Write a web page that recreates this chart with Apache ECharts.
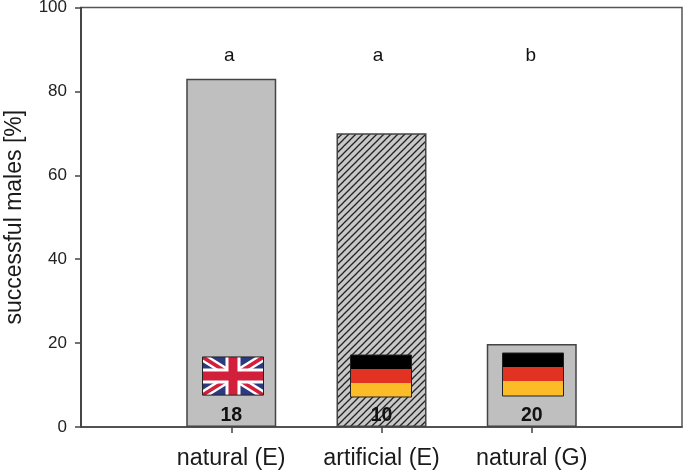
<!DOCTYPE html>
<html><head><meta charset="utf-8">
<style>html,body{margin:0;padding:0;background:#fff}#c{width:685px;height:472px}</style>
<script src="https://cdn.jsdelivr.net/npm/echarts@6/dist/echarts.min.js"></script>
</head><body><div id="c"></div>
<script>
const categories = ['', 'natural (E)', 'artificial (E)', 'natural (G)', ''];
const successValues = [null, 83, 70, 19.8, null];
const letterLabels = ['a', 'a', 'b'];
const sampleSizes = [18, 10, 20];
const markerCategories = [1, 2, 3];
const letterLevel = 88.6;
const sampleLevel = 2.8;
const flagKinds = ['uk', 'de', 'de'];
const flagTops = [16.7, 17.2, 17.6];
const flagBottoms = [7.6, 7.3, 7.4];
const yTicks = [0, 20, 40, 60, 80, 100];

const letterNudge = [-2, -3.5, -1];
const flagNudge = [1, -1, 1];

function hatch() {
  const s = 7, c = document.createElement('canvas');
  c.width = s; c.height = s;
  const g = c.getContext('2d');
  g.fillStyle = '#c8c8c8'; g.fillRect(0, 0, s, s);
  g.strokeStyle = '#222'; g.lineWidth = 1.25;
  [[-1, 1, 1, -1], [-1, s + 1, s + 1, -1], [s - 1, s + 1, s + 1, s - 1]].forEach(p => {
    g.beginPath(); g.moveTo(p[0], p[1]); g.lineTo(p[2], p[3]); g.stroke();
  });
  return { image: c, repeat: 'repeat' };
}

function ukFlag(x, y, w, h) {
  const rect = (a, b, c, d, fill) => ({ type: 'rect', shape: { x: a, y: b, width: c, height: d }, style: { fill } });
  const band = (dx, dy, flip, fill) => {
    const p = flip
      ? [[x + w, y], [x + w - dx, y], [x, y + h - dy], [x, y + h], [x + dx, y + h], [x + w, y + dy]]
      : [[x, y], [x + dx, y], [x + w, y + h - dy], [x + w, y + h], [x + w - dx, y + h], [x, y + dy]];
    return { type: 'polygon', shape: { points: p }, style: { fill } };
  };
  return [
    rect(x, y, w, h, '#2b3a80'),
    band(8, 5, false, '#ffffff'), band(8, 5, true, '#ffffff'),
    band(3.5, 2.2, false, '#d2203c'), band(3.5, 2.2, true, '#d2203c'),
    rect(x + w / 2 - 7.5, y, 15, h, '#ffffff'), rect(x, y + h / 2 - 7.5, w, 15, '#ffffff'),
    rect(x + w / 2 - 4.5, y, 9, h, '#d2203c'), rect(x, y + h / 2 - 4.5, w, 9, '#d2203c'),
    { type: 'rect', shape: { x, y, width: w, height: h }, style: { fill: 'none', stroke: '#222', lineWidth: 1 } }
  ];
}
function deFlag(x, y, w, h) {
  const y0 = Math.round(y), t = Math.round(h / 3), h0 = Math.round(h);
  return [
    { type: 'rect', shape: { x, y: y0, width: w, height: h0 }, style: { fill: '#fbbc28' } },
    { type: 'rect', shape: { x, y: y0, width: w, height: 2 * t }, style: { fill: '#e23222' } },
    { type: 'rect', shape: { x, y: y0, width: w, height: t }, style: { fill: '#000' } },
    { type: 'rect', shape: { x, y: y0, width: w, height: h0 }, style: { fill: 'none', stroke: '#222', lineWidth: 1 } }
  ];
}

const chart = echarts.init(document.getElementById('c'), null, { renderer: 'canvas' });
const fontFamily = '"Liberation Sans", Arial, sans-serif';
chart.setOption({
  animation: false,
  backgroundColor: '#fff',
  grid: { left: 81, right: 3, top: 7.5, bottom: 45, show: true, outerBoundsMode: 'none', containLabel: false, borderColor: '#555', borderWidth: 1.5, backgroundColor: 'transparent' },
  xAxis: {
    type: 'category', data: categories, boundaryGap: false,
    axisLine: { lineStyle: { color: '#444', width: 1.5 } },
    axisTick: { length: 6, lineStyle: { color: '#444', width: 1.5 }, interval: (i) => i >= 1 && i <= 3, alignWithLabel: true },
    axisLabel: { color: '#1a1a1a', fontSize: 23.3, fontFamily, margin: 20, interval: 0 },
    splitLine: { show: false }
  },
  yAxis: {
    type: 'value', min: yTicks[0], max: yTicks[yTicks.length - 1], interval: yTicks[1] - yTicks[0],
    name: 'successful males [%]', nameLocation: 'middle', nameGap: 55,
    nameTextStyle: { color: '#1a1a1a', fontSize: 23, fontFamily },
    axisLine: { show: true, lineStyle: { color: '#333', width: 1.5 } },
    axisTick: { show: true, length: 6, lineStyle: { color: '#444', width: 1.5 } },
    axisLabel: { color: '#222', fontSize: 17, fontFamily, margin: 14 },
    splitLine: { show: false }
  },
  series: [
    {
      type: 'bar', barWidth: 90, z: 2,
      data: successValues.map((v, i) => ({
        value: v,
        itemStyle: i === 2
          ? { color: hatch(), borderColor: '#444', borderWidth: 1.5 }
          : { color: '#bfbfbf', borderColor: '#444', borderWidth: 1.5 }
      }))
    },
    {
      type: 'custom', z: 5, coordinateSystem: 'cartesian2d', silent: true,
      data: markerCategories.map((c, i) => [c, flagTops[i], flagBottoms[i], i]),
      encode: { x: 0, y: [1, 2] },
      renderItem: (params, api) => {
        const i = api.value(3);
        const top = api.coord([api.value(0), api.value(1)]);
        const bot = api.coord([api.value(0), api.value(2)]);
        const w = 61, x = Math.round(top[0] - w / 2) + 0.5 + flagNudge[i], y = top[1], h = bot[1] - top[1];
        return { type: 'group', children: flagKinds[i] === 'uk' ? ukFlag(x, y, w, h) : deFlag(x, y, w, h) };
      }
    },
    {
      type: 'scatter', symbolSize: 0, z: 6, silent: true, itemStyle: { opacity: 1 },
      data: markerCategories.map((c, i) => ({
        value: [c, letterLevel],
        label: { show: true, position: 'inside', offset: [letterNudge[i], 0], formatter: letterLabels[i], fontSize: 19, color: '#111', fontFamily }
      }))
    },
    {
      type: 'scatter', symbolSize: 0, z: 6, silent: true, itemStyle: { opacity: 1 },
      data: markerCategories.map((c, i) => ({
        value: [c, sampleLevel],
        label: { show: true, position: 'inside', formatter: String(sampleSizes[i]), fontSize: 19.5, fontWeight: 'bold', color: '#111', fontFamily }
      }))
    }
  ]
});
</script></body></html>
